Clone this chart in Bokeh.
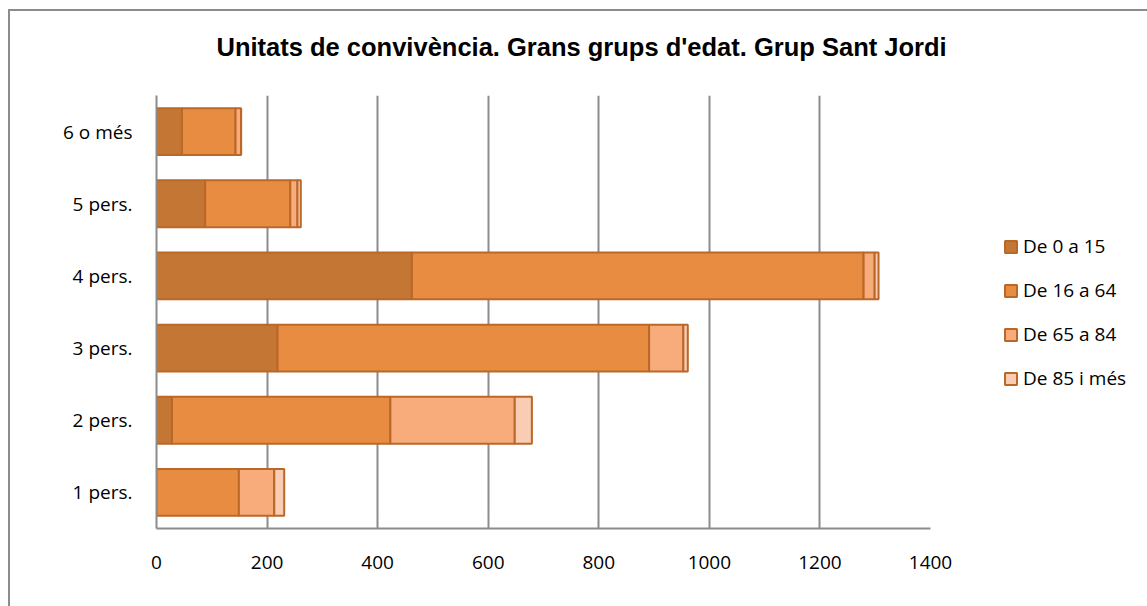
from bokeh.plotting import figure
from bokeh.models import Range1d, FactorRange, FixedTicker, Legend, LegendItem, Title
from bokeh.embed import file_html
from bokeh.resources import INLINE

categories = ["1 pers.", "2 pers.", "3 pers.", "4 pers.", "5 pers.", "6 o més"]
de_0_15 = [0, 28, 219, 462, 88, 46]
de_16_64 = [149, 395, 672, 817, 154, 97]
de_65_84 = [64, 225, 62, 20, 13, 10]
de_85_mes = [18, 31, 8, 7, 6, 0]
series_names = ["De 0 a 15", "De 16 a 64", "De 65 a 84", "De 85 i més"]
x_ticks = [0, 200, 400, 600, 800, 1000, 1200, 1400]
title_text = "Unitats de convivència. Grans grups d'edat. Grup Sant Jordi"

colors = ["#C47634", "#E88C41", "#F8AB7B", "#F9CCB4"]
FONT = "Open Sans"

data = {"cat": categories, "s0": de_0_15, "s1": de_16_64, "s2": de_65_84, "s3": de_85_mes}

p = figure(width=1137, height=595, frame_width=774, frame_height=433,
           output_backend="svg", toolbar_location=None,
           x_range=Range1d(0, 1400), y_range=FactorRange(*categories),
           min_border_left=146, min_border_right=217, min_border_top=84, min_border_bottom=78)

renderers = p.hbar_stack(["s0", "s1", "s2", "s3"], y="cat", height=0.65, color=colors,
                         line_color="#BA6828", line_width=2, source=data)

p.title.text = title_text
p.title.text_font = "Liberation Sans"
p.title.text_font_style = "bold"
p.title.text_font_size = "25.5px"
p.title.align = "left"
p.title.offset = 60
p.title.standoff = 39
p.title.text_color = "#000000"

# spacer between title and frame
spacer = Title(text=" ", text_font_size="1px", standoff=12)
p.add_layout(spacer, "above")

p.outline_line_color = None
p.ygrid.grid_line_color = None
p.xgrid.grid_line_color = "#8C8C8C"
p.xgrid.grid_line_width = 2
p.xaxis.ticker = FixedTicker(ticks=x_ticks)

for ax in (p.xaxis[0], p.yaxis[0]):
    ax.axis_line_color = "#8C8C8C"
    ax.axis_line_width = 2
    ax.major_tick_line_color = None
    ax.minor_tick_line_color = None
    ax.major_label_text_font = FONT
    ax.major_label_text_font_size = "19px"
    ax.major_label_text_color = "#000000"
p.xaxis.major_label_standoff = 21
p.yaxis.major_label_standoff = 18

items = [LegendItem(label=n, renderers=[r]) for n, r in zip(series_names, renderers)]
legend = Legend(items=items, location=(73, 137), margin=0, padding=0,
                border_line_color=None, background_fill_alpha=0,
                glyph_width=15, glyph_height=15, label_standoff=5, spacing=18,
                label_text_font=FONT, label_text_font_size="19px", label_text_color="#000000")
p.add_layout(legend, "right")

p.styles = {"margin-left": "8px", "margin-top": "9px",
            "border-left": "2px solid #8C8C8C", "border-top": "2px solid #8C8C8C"}

open("out.html", "w").write(file_html(p, INLINE))
